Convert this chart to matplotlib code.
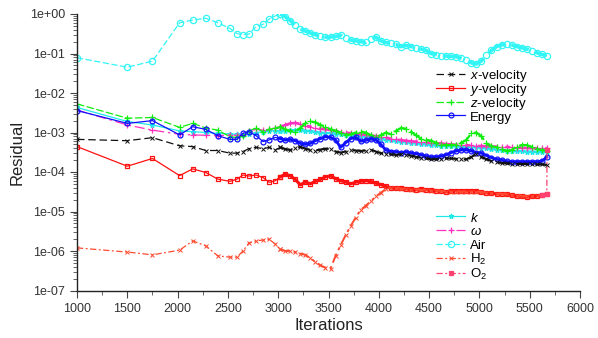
import numpy as np
import matplotlib
matplotlib.use('Agg')
import matplotlib.pyplot as plt
from matplotlib.ticker import FixedLocator, FuncFormatter, LogLocator, NullFormatter

plt.rcParams['font.family'] = ['Liberation Sans', 'DejaVu Sans']
plt.rcParams['mathtext.fontset'] = 'custom'
plt.rcParams['mathtext.rm'] = 'Liberation Sans'
plt.rcParams['mathtext.it'] = 'Liberation Sans:italic'

# common iteration grid (sparse at start, dense later)
iteracoes = [1000, 1500, 1750, 2020, 2150, 2280, 2400, 2520, 2590, 2650, 2710, 2780, 2850, 2910, 2970,
             3020, 3070, 3120, 3170, 3220, 3270, 3320, 3370, 3420, 3470,
             3520, 3570, 3620, 3670, 3720, 3770, 3820, 3870, 3920, 3970,
             4020, 4070, 4120, 4170, 4220, 4270, 4320, 4370, 4420, 4470,
             4520, 4570, 4620, 4670, 4720, 4770, 4820, 4870, 4920, 4970,
             5020, 5070, 5120, 5170, 5220, 5270, 5320, 5370, 5420, 5470,
             5520, 5570, 5620, 5670]

x_velocity = [6.7e-4, 6.2e-4, 7.4e-4, 4.6e-4, 4.4e-4, 3.5e-4, 3.5e-4, 3.0e-4, 3.0e-4, 3.3e-4, 3.9e-4, 4.2e-4, 3.9e-4, 4.2e-4, 3.6e-4,
              4.2e-4, 3.8e-4, 3.6e-4, 4.0e-4, 4.3e-4, 3.9e-4, 3.6e-4, 3.5e-4, 3.7e-4, 3.9e-4,
              3.8e-4, 3.3e-4, 3.1e-4, 3.3e-4, 3.6e-4, 3.5e-4, 3.4e-4, 3.5e-4, 3.7e-4, 3.3e-4,
              3.0e-4, 2.9e-4, 2.8e-4, 2.7e-4, 2.8e-4, 2.7e-4, 2.6e-4, 2.4e-4, 2.3e-4, 2.2e-4,
              2.1e-4, 2.1e-4, 2.15e-4, 2.2e-4, 2.2e-4, 2.15e-4, 2.1e-4, 2.1e-4, 2.4e-4, 2.9e-4,
              2.4e-4, 2.1e-4, 1.9e-4, 1.75e-4, 1.7e-4, 1.65e-4, 1.6e-4, 1.6e-4, 1.6e-4, 1.6e-4,
              1.6e-4, 1.55e-4, 1.55e-4, 1.5e-4]

y_velocity = [4.4e-4, 1.4e-4, 2.2e-4, 8.1e-5, 1.2e-4, 9.7e-5, 6.6e-5, 5.8e-5, 6.6e-5, 8.4e-5, 7.9e-5, 8.4e-5, 7.2e-5, 5.5e-5, 6.0e-5,
              7.5e-5, 8.8e-5, 8.0e-5, 6.5e-5, 4.7e-5, 5.6e-5, 5.0e-5, 5.8e-5, 6.5e-5, 7.5e-5,
              8.0e-5, 6.8e-5, 6.0e-5, 5.6e-5, 5.0e-5, 5.5e-5, 5.8e-5, 6.0e-5, 5.8e-5, 5.2e-5,
              4.8e-5, 4.3e-5, 4.0e-5, 3.9e-5, 4.0e-5, 3.8e-5, 3.7e-5, 3.6e-5, 3.7e-5, 3.6e-5,
              3.5e-5, 3.4e-5, 3.3e-5, 3.2e-5, 3.3e-5, 3.4e-5, 3.3e-5, 3.3e-5, 3.4e-5, 3.3e-5,
              3.1e-5, 3.0e-5, 2.9e-5, 2.8e-5, 2.8e-5, 2.7e-5, 2.6e-5, 2.5e-5, 2.4e-5, 2.3e-5,
              2.4e-5, 2.5e-5, 2.6e-5, 2.8e-5]

z_velocity = [5.3e-3, 2.3e-3, 2.4e-3, 1.35e-3, 1.7e-3, 1.3e-3, 1.15e-3, 7.8e-4, 7.5e-4, 8.0e-4, 1.1e-3, 1.3e-3, 1.05e-3, 1.2e-3, 1.3e-3,
              1.4e-3, 1.2e-3, 1.1e-3, 1.05e-3, 1.3e-3, 1.7e-3, 1.9e-3, 1.8e-3, 1.55e-3, 1.4e-3,
              1.2e-3, 1.1e-3, 1.0e-3, 8.7e-4, 9.0e-4, 1.0e-3, 1.05e-3, 1.0e-3, 8.5e-4, 7.8e-4,
              8.5e-4, 1.0e-3, 9.0e-4, 1.1e-3, 1.3e-3, 1.25e-3, 1.05e-3, 8.5e-4, 7.0e-4, 6.5e-4,
              6.2e-4, 5.5e-4, 4.9e-4, 4.8e-4, 4.8e-4, 4.9e-4, 5.5e-4, 6.5e-4, 9.5e-4, 1.0e-3,
              8.0e-4, 5.3e-4, 4.5e-4, 4.2e-4, 3.8e-4, 3.4e-4, 3.6e-4, 4.4e-4, 4.8e-4, 4.8e-4,
              4.3e-4, 3.8e-4, 3.6e-4, 3.5e-4]

energy = [3.6e-3, 1.7e-3, 2.0e-3, 8.7e-4, 1.4e-3, 1.2e-3, 8.3e-4, 6.7e-4, 6.7e-4, 9.5e-4, 1.05e-3, 8.3e-4, 5.9e-4, 6.5e-4, 7.5e-4,
          7.0e-4, 6.4e-4, 6.7e-4, 6.2e-4, 5.3e-4, 5.0e-4, 5.3e-4, 6.2e-4, 7.0e-4, 7.8e-4,
          7.6e-4, 6.5e-4, 4.2e-4, 5.5e-4, 7.0e-4, 7.5e-4, 6.0e-4, 6.3e-4, 6.8e-4, 6.5e-4,
          5.0e-4, 3.6e-4, 3.3e-4, 3.2e-4, 3.1e-4, 3.2e-4, 3.0e-4, 2.9e-4, 2.7e-4, 2.5e-4,
          2.4e-4, 2.4e-4, 2.5e-4, 2.7e-4, 3.1e-4, 3.4e-4, 3.6e-4, 3.6e-4, 3.4e-4, 3.1e-4,
          3.0e-4, 2.6e-4, 2.3e-4, 2.1e-4, 2.0e-4, 1.85e-4, 1.8e-4, 1.8e-4, 1.8e-4, 1.8e-4,
          1.8e-4, 1.8e-4, 1.85e-4, 2.4e-4]

k = [4.3e-3, 1.9e-3, 1.55e-3, 1.1e-3, 1.05e-3, 1.0e-3, 9.5e-4, 9.2e-4, 9.0e-4, 8.8e-4, 9.0e-4, 1.0e-3, 1.05e-3, 1.1e-3, 1.1e-3,
     1.1e-3, 1.12e-3, 1.15e-3, 1.15e-3, 1.15e-3, 1.12e-3, 1.08e-3, 1.04e-3, 1.0e-3, 9.8e-4,
     9.6e-4, 9.4e-4, 9.1e-4, 8.8e-4, 8.5e-4, 8.2e-4, 8.0e-4, 7.8e-4, 7.5e-4, 7.2e-4,
     6.9e-4, 6.6e-4, 6.3e-4, 6.0e-4, 5.9e-4, 5.7e-4, 5.5e-4, 5.3e-4, 5.1e-4, 5.0e-4,
     4.8e-4, 4.7e-4, 4.6e-4, 4.6e-4, 4.5e-4, 4.5e-4, 4.4e-4, 4.4e-4, 4.3e-4, 4.2e-4,
     4.1e-4, 4.0e-4, 3.8e-4, 3.7e-4, 3.6e-4, 3.5e-4, 3.45e-4, 3.4e-4, 3.35e-4, 3.3e-4,
     3.3e-4, 3.25e-4, 3.2e-4, 3.2e-4]

omega = [3.7e-3, 1.55e-3, 1.15e-3, 9.0e-4, 8.7e-4, 8.5e-4, 8.3e-4, 8.7e-4, 8.5e-4, 8.6e-4, 1.1e-3, 1.2e-3, 1.15e-3, 1.2e-3, 1.3e-3,
         1.4e-3, 1.55e-3, 1.7e-3, 1.75e-3, 1.65e-3, 1.5e-3, 1.4e-3, 1.3e-3, 1.25e-3, 1.2e-3,
         1.15e-3, 1.1e-3, 1.05e-3, 1.0e-3, 9.6e-4, 9.3e-4, 9.0e-4, 8.7e-4, 8.4e-4, 8.1e-4,
         7.8e-4, 7.5e-4, 7.0e-4, 6.7e-4, 6.4e-4, 6.2e-4, 6.0e-4, 5.9e-4, 5.8e-4, 5.6e-4,
         5.5e-4, 5.4e-4, 5.3e-4, 5.1e-4, 5.0e-4, 4.9e-4, 4.85e-4, 4.8e-4, 4.7e-4, 4.6e-4,
         4.55e-4, 4.5e-4, 4.45e-4, 4.4e-4, 4.35e-4, 4.3e-4, 4.2e-4, 4.15e-4, 4.1e-4, 4.05e-4,
         4.0e-4, 4.0e-4, 4.0e-4, 4.0e-4]

air = [0.078, 0.045, 0.064, 0.60, 0.70, 0.78, 0.60, 0.43, 0.32, 0.30, 0.31, 0.48, 0.55, 0.75, 0.89,
       1.0, 0.85, 0.68, 0.52, 0.42, 0.37, 0.33, 0.30, 0.27, 0.26,
       0.26, 0.27, 0.29, 0.25, 0.22, 0.21, 0.20, 0.19, 0.23, 0.26,
       0.21, 0.19, 0.18, 0.17, 0.15, 0.16, 0.15, 0.14, 0.13, 0.12,
       0.10, 0.094, 0.088, 0.086, 0.085, 0.083, 0.076, 0.068, 0.058, 0.054,
       0.065, 0.09, 0.12, 0.15, 0.165, 0.17, 0.165, 0.15, 0.14, 0.13,
       0.118, 0.105, 0.095, 0.088]

h2 = [1.2e-6, 9.4e-7, 8.0e-7, 1.05e-6, 1.8e-6, 1.35e-6, 7.5e-7, 7.0e-7, 7.0e-7, 1.0e-6, 1.6e-6, 1.8e-6, 1.9e-6, 2.0e-6, 1.5e-6,
      1.1e-6, 1.0e-6, 1.0e-6, 9.4e-7, 8.6e-7, 8.0e-7, 6.5e-7, 5.3e-7, 4.3e-7, 3.8e-7,
      3.6e-7, 7.5e-7, 1.4e-6, 2.5e-6, 4.3e-6, 7.0e-6, 1.1e-5, 1.4e-5, 1.8e-5, 2.4e-5,
      3.0e-5, 3.7e-5, 4.0e-5, 3.9e-5, 3.8e-5, 3.7e-5, 3.6e-5, 3.6e-5, 3.5e-5, 3.5e-5,
      3.4e-5, 3.4e-5, 3.3e-5, 3.2e-5, 3.2e-5, 3.2e-5, 3.2e-5, 3.2e-5, 3.2e-5, 3.2e-5,
      3.1e-5, 3.0e-5, 2.9e-5, 2.8e-5, 2.8e-5, 2.7e-5, 2.6e-5, 2.5e-5, 2.5e-5, 2.4e-5,
      2.4e-5, 2.5e-5, 2.6e-5, 2.7e-5]

# O2 only shows at the very end (jump at last iteration)
o2_iter = [5620, 5670, 5672]
o2 = [2.6e-5, 2.8e-5, 3.6e-4]

fig = plt.figure(figsize=(5.98, 3.38), dpi=100)
ax = fig.add_axes([77 / 598, 1 - 290.5 / 338, (580 - 77) / 598, (290.5 - 14) / 338])

N_ESPARSO = 16  # after this index the solver writes often -> markers merge into a thick band


def serie(y, label, dense_lw, **kw):
    # sparse part with label (used by legend), dense part drawn thicker
    linha, = ax.plot(iteracoes[:N_ESPARSO], y[:N_ESPARSO], lw=0.9, label=label, **kw)
    ax.plot(iteracoes[N_ESPARSO - 1:], y[N_ESPARSO - 1:], lw=dense_lw, **kw)
    return linha


ms = 3.5
h_air = serie(air, 'Air', 2.6, color='#33f5f5', ls=(0, (5, 2)), marker='o', ms=4.5, mfc='none', mew=0.9)
h_k = serie(k, '$k$', 1.6, color='#20e8e8', ls='-', marker='*', ms=ms)
h_om = serie(omega, r'$\omega$', 1.8, color='#ff30c0', ls=(0, (8, 3, 2, 3)), marker='+', ms=ms + 1, mew=0.9)
h_z = serie(z_velocity, '$z$-velocity', 1.6, color='#10ee10', ls=(0, (6, 2)), marker='+', ms=ms + 1, mew=0.9)
h_en = serie(energy, 'Energy', 2.0, color='#1010ff', ls='-', marker='o', ms=ms, mfc='none', mew=0.9)
h_x = serie(x_velocity, '$x$-velocity', 1.5, color='#111111', ls=(0, (6, 3)), marker='x', ms=ms - 0.5, mew=0.7)
h_y = serie(y_velocity, '$y$-velocity', 2.2, color='#ff1010', ls='-', marker='s', ms=ms, mfc='none', mew=0.9)
h_h2 = serie(h2, 'H$_2$', 1.4, color='#ff4a30', ls=(0, (5, 2, 1.5, 2)), marker='x', ms=ms - 0.5, mew=0.7)
h_o2, = ax.plot(o2_iter, o2, color='#ff4070', ls=(0, (5, 2, 1.5, 2)), lw=0.9, marker='s', ms=ms, mew=0.9, label='O$_2$')

ax.set_yscale('log')
ax.set_xlim(1000, 6000)
ax.set_ylim(1e-7, 1.0)
ax.xaxis.set_major_locator(FixedLocator(np.arange(1000, 6001, 500)))
ax.xaxis.set_minor_locator(FixedLocator(np.arange(1000, 6001, 250)))
ax.yaxis.set_major_locator(LogLocator(base=10, numticks=20))
ax.yaxis.set_minor_locator(LogLocator(base=10, subs=np.arange(2, 10), numticks=20))
ax.yaxis.set_minor_formatter(NullFormatter())
ax.yaxis.set_major_formatter(FuncFormatter(lambda v, p: '{:.0e}'.format(v)))

for s in ['top', 'right']:
    ax.spines[s].set_visible(False)
for s in ['left', 'bottom']:
    ax.spines[s].set_color('#222222')
    ax.spines[s].set_linewidth(1.0)
ax.tick_params(which='major', length=5, width=0.8, color='#444444', labelsize=9, labelcolor='#333333')
ax.tick_params(which='minor', length=3, width=0.7, color='#666666')
ax.tick_params(axis='x', pad=4)

ax.set_xlabel('Iterations', fontsize=12, color='#222222', labelpad=2)
ax.set_ylabel('Residual', fontsize=12, color='#222222', labelpad=4)

opts = dict(loc='upper left', bbox_transform=fig.transFigure, frameon=False, fontsize=9.5,
            handlelength=2.2, handleheight=1.05, handletextpad=0.4,
            borderpad=0, borderaxespad=0)
leg1 = ax.legend([h_x, h_y, h_z, h_en], ['$x$-velocity', '$y$-velocity', '$z$-velocity', 'Energy'],
                 bbox_to_anchor=(436 / 598, 1 - 68 / 338), labelspacing=-0.15, **opts)
ax.add_artist(leg1)
ax.legend([h_k, h_om, h_air, h_h2, h_o2], ['$k$', r'$\omega$', 'Air', 'H$_2$', 'O$_2$'],
          bbox_to_anchor=(436 / 598, 1 - 211 / 338), labelspacing=0.0, **opts)

fig.savefig('out.png', dpi=100)
